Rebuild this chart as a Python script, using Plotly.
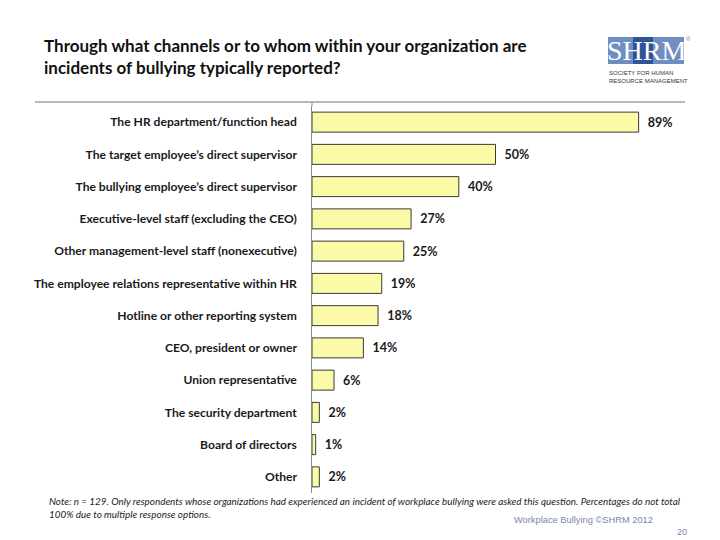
import plotly.graph_objects as go

categories = [
    "The HR department/function head",
    "The target employee\u2019s direct supervisor",
    "The bullying employee\u2019s direct supervisor",
    "Executive-level staff (excluding the CEO)",
    "Other management-level staff (nonexecutive)",
    "The employee relations representative within HR",
    "Hotline or other reporting system",
    "CEO, president or owner",
    "Union representative",
    "The security department",
    "Board of directors",
    "Other",
]
values = [89, 50, 40, 27, 25, 19, 18, 14, 6, 2, 1, 2]
value_labels = [f"  {v}%" for v in values]

W, H = 720, 540
L, R, T, B = 312, 41, 106, 47
pw, ph = W - L - R, H - T - B

def px(x):
    return (x - L) / pw

def py(y):
    return (H - B - y) / ph

FONT = "Lato, Carlito, sans-serif"

fig = go.Figure(go.Bar(
    y=categories, x=values, orientation="h",
    text=value_labels, textposition="outside",
    textfont=dict(family=FONT, size=12.5, color="#1a1a1a", weight="bold"),
    marker=dict(color="#fbfaa6", line=dict(color="#3a3a3a", width=1)),
    width=0.62, cliponaxis=False, hoverinfo="skip",
))

fig.update_layout(
    width=W, height=H,
    margin=dict(l=L, r=R, t=T, b=B),
    paper_bgcolor="white", plot_bgcolor="white",
    showlegend=False,
    font=dict(family=FONT),
    xaxis=dict(range=[0, 100], showgrid=False, zeroline=False,
               showticklabels=False, showline=False, fixedrange=True),
    yaxis=dict(autorange="reversed", showgrid=False, zeroline=False,
               showline=True, linecolor="#8c8c8c", linewidth=1,
               ticks="", ticksuffix="    ", fixedrange=True,
               tickfont=dict(family=FONT, size=12.1, color="#1a1a1a", weight="bold")),
)

shapes = []
shapes.append(dict(type="line", xref="paper", yref="paper",
                   x0=px(35), x1=px(685), y0=py(102), y1=py(102),
                   line=dict(color="#a0a0a0", width=1.5)))
shapes.append(dict(type="line", xref="paper", yref="paper",
                   x0=0, x1=0, y0=1, y1=py(102),
                   line=dict(color="#8c8c8c", width=1)))
shapes.append(dict(type="rect", xref="paper", yref="paper",
                   x0=px(608), x1=px(684), y0=py(64), y1=py(37),
                   fillcolor="#6f8fc3", line=dict(width=0)))
shapes.append(dict(type="rect", xref="paper", yref="paper",
                   x0=px(633), x1=px(653), y0=py(64), y1=py(37),
                   fillcolor="#2f5496", line=dict(width=0)))
fig.update_layout(shapes=shapes)

ann = []
ann.append(dict(xref="paper", yref="paper", x=px(42), y=py(33), xanchor="left", yanchor="top",
                align="left", showarrow=False,
                text="<b>Through what channels or to whom within your organization are<br>incidents of bullying typically reported?</b>",
                font=dict(family=FONT, size=17, color="#111111")))
ann.append(dict(xref="paper", yref="paper", x=px(646), y=py(51), xanchor="center", yanchor="middle",
                showarrow=False, text="SHRM",
                font=dict(family="Liberation Serif, serif", size=28, color="white")))
ann.append(dict(xref="paper", yref="paper", x=px(688), y=py(39), xanchor="center", yanchor="middle",
                showarrow=False, text="®",
                font=dict(family="Liberation Sans, sans-serif", size=6, color="#777777")))
ann.append(dict(xref="paper", yref="paper", x=px(607), y=py(68), xanchor="left", yanchor="top",
                align="left", showarrow=False,
                text="SOCIETY FOR HUMAN<br>RESOURCE MANAGEMENT",
                font=dict(family="Liberation Sans, sans-serif", size=6, color="#333333")))
ann.append(dict(xref="paper", yref="paper", x=px(47), y=py(493), xanchor="left", yanchor="top",
                align="left", showarrow=False,
                text="<i>Note: n = 129. Only respondents whose organizations had experienced an incident of workplace bullying were asked this question. Percentages do not total<br>100% due to multiple response options.</i>",
                font=dict(family=FONT, size=9.9, color="#222222")))
ann.append(dict(xref="paper", yref="paper", x=px(512), y=py(520), xanchor="left", yanchor="middle",
                showarrow=False, text="Workplace Bullying ©SHRM 2012",
                font=dict(family="Liberation Sans, sans-serif", size=9.3, color="#7788a8")))
ann.append(dict(xref="paper", yref="paper", x=px(689), y=py(532), xanchor="right", yanchor="middle",
                showarrow=False, text="20",
                font=dict(family="Liberation Sans, sans-serif", size=9, color="#7788a8")))
fig.update_layout(annotations=ann)

fig.write_html("out.html", config={"displayModeBar": False},
               post_script="document.body.style.margin='0';")
